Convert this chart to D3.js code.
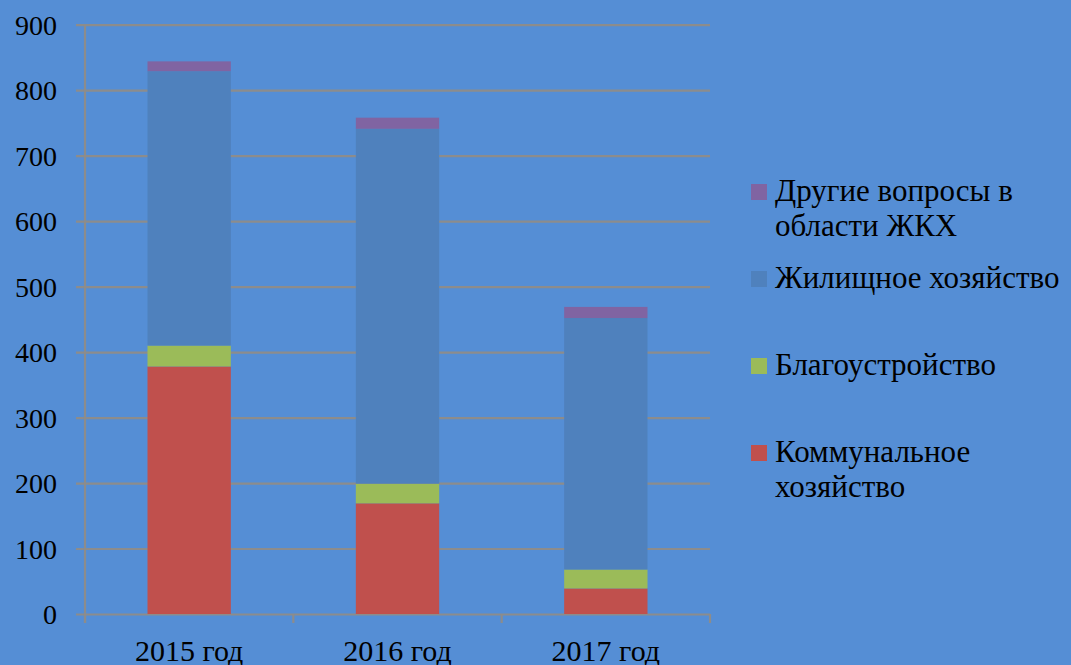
<!DOCTYPE html>
<html>
<head>
<meta charset="utf-8">
<script src="https://cdn.jsdelivr.net/npm/d3@7.9.0/dist/d3.min.js"></script>
<style>
  html, body { margin: 0; padding: 0; background: #558ed5; }
  svg { display: block; font-family: "Liberation Serif", "DejaVu Serif", serif; }
</style>
</head>
<body>
<svg id="chart" width="1071" height="665"></svg>
<script>
// data
const years = ['2015 год', '2016 год', '2017 год'];
const seriesNames = ['Коммунальное хозяйство', 'Благоустройство', 'Жилищное хозяйство', 'Другие вопросы в области ЖКХ'];
const kommunal = [378, 169, 39];
const blagoustr = [32, 30, 29];
const zhilish = [419, 542, 384];
const drugie = [15, 17, 17];
const yTicks = [0, 100, 200, 300, 400, 500, 600, 700, 800, 900];
const colors = ['#c0504d', '#9bbb59', '#4f81bd', '#8064a2'];
// legend lines, top to bottom
const legendItems = [
  { s: 3, lines: ['Другие вопросы в', 'области ЖКХ'] },
  { s: 2, lines: ['Жилищное хозяйство'] },
  { s: 1, lines: ['Благоустройство'] },
  { s: 0, lines: ['Коммунальное', 'хозяйство'] }
];

const svg = d3.select('#chart');
const margin = { top: 24.7, left: 85, right: 710, bottom: 614 };

const rows = years.map((y, i) => ({
  year: y,
  s0: kommunal[i], s1: blagoustr[i], s2: zhilish[i], s3: drugie[i]
}));
const stack = d3.stack().keys(['s0', 's1', 's2', 's3'])(rows);

const x = d3.scaleBand().domain(years).range([margin.left, margin.right]).paddingInner(0).paddingOuter(0);
const y = d3.scaleLinear().domain([0, 900]).range([margin.bottom, margin.top]);
const barW = x.bandwidth() * 0.4;

// gridlines + y ticks
const grid = svg.append('g').attr('transform', `translate(${margin.left},0)`);
grid.call(d3.axisLeft(y).tickValues(yTicks).tickSize(-(margin.right - margin.left)).tickFormat(''));
grid.select('.domain').remove();
grid.selectAll('.tick line').attr('stroke', '#8c8c8c').attr('stroke-width', 2.2).attr('x1', -9);

// left axis line
svg.append('line')
  .attr('x1', margin.left).attr('x2', margin.left)
  .attr('y1', y(900)).attr('y2', y(0) + 9)
  .attr('stroke', '#8c8c8c').attr('stroke-width', 2.2);

// x tick marks at category boundaries
const bounds = years.map(d => x(d)).concat([margin.right]);
svg.append('g').selectAll('line').data(bounds).join('line')
  .attr('x1', d => d).attr('x2', d => d)
  .attr('y1', y(0)).attr('y2', y(0) + 9)
  .attr('stroke', '#8c8c8c').attr('stroke-width', 2.2);

// bars
svg.append('g').selectAll('g').data(stack).join('g')
  .attr('fill', (d, i) => colors[i])
  .selectAll('rect').data(d => d).join('rect')
  .attr('x', d => x(d.data.year) + (x.bandwidth() - barW) / 2)
  .attr('width', barW)
  .attr('y', d => y(d[1]))
  .attr('height', d => y(d[0]) - y(d[1]));

// y labels
svg.append('g').selectAll('text').data(yTicks).join('text')
  .attr('x', 57).attr('y', d => y(d) + 10)
  .attr('text-anchor', 'end')
  .attr('font-size', 28)
  .attr('fill', '#000')
  .text(d => d);

// x labels
svg.append('g').selectAll('text').data(years).join('text')
  .attr('x', d => x(d) + x.bandwidth() / 2)
  .attr('y', 661)
  .attr('text-anchor', 'middle')
  .attr('font-size', 30)
  .attr('fill', '#000')
  .text(d => d);

// legend
const legendY = [192, 279, 366, 453];
const lg = svg.append('g').selectAll('g').data(legendItems).join('g')
  .attr('transform', (d, i) => `translate(751,${legendY[i]})`);
lg.append('rect').attr('x', 0).attr('y', -8).attr('width', 16).attr('height', 16)
  .attr('fill', d => colors[d.s]);
lg.each(function(d) {
  const t = d3.select(this).append('text')
    .attr('x', 24).attr('y', 9)
    .attr('font-size', 31).attr('fill', '#000');
  d.lines.forEach((l, j) => {
    t.append('tspan').attr('x', 24).attr('dy', j === 0 ? 0 : 35).text(l);
  });
});
</script>
</body>
</html>
